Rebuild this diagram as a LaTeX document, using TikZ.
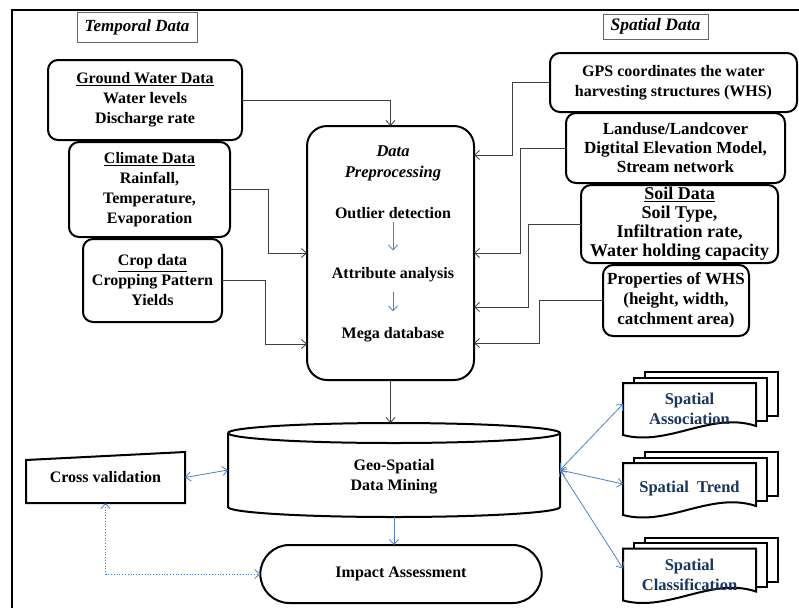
\documentclass[tikz,border=0pt]{standalone}
\usepackage{fontspec}
\setmainfont{Liberation Serif}
\usepackage{tikz}
\usetikzlibrary{positioning,shapes.misc,arrows.meta,backgrounds}

\definecolor{linkblue}{RGB}{79,129,189}
\definecolor{docnavy}{RGB}{23,54,93}

\newcommand{\boxfont}{\bfseries\fontsize{16}{20}\selectfont}
\newcommand{\bigboxfont}{\bfseries\fontsize{18}{19}\selectfont}

\tikzset{
  databox/.style={rectangle, draw, line width=2pt, rounded corners=10pt, align=center, inner sep=2pt, outer sep=0pt, font=\boxfont},
  tagbox/.style={rectangle, draw=black!60, line width=0.6pt, inner sep=2pt, font=\bfseries\itshape\fontsize{17}{20}\selectfont},
  wire/.style={draw=black!75, line width=0.8pt, -{Straight Barb[length=5pt,width=9pt]}},
  flow/.style={draw=linkblue, line width=0.8pt, -{Straight Barb[length=5pt,width=9pt]}},
  flowboth/.style={draw=linkblue, line width=0.8pt, {Straight Barb[length=5pt,width=9pt]}-{Straight Barb[length=5pt,width=9pt]}},
  docline/.style={draw, line width=2pt, fill=white},
  doctext/.style={rectangle, minimum width=133pt, minimum height=52pt, outer sep=0pt, align=center, text=docnavy, font=\bfseries\fontsize{16.5}{20}\selectfont}
}

% stack of three documents behind a node
\newcommand{\docstack}[1]{%
  \foreach \k in {2,1}{%
    \filldraw[docline] ([xshift=11*\k pt, yshift=5.5*\k pt]#1.north west)
      rectangle ([xshift=11*\k pt, yshift=9pt+5*\k pt]#1.south east);
  }%
  \filldraw[docline] (#1.north west) -- (#1.north east) -- ([yshift=9pt]#1.south east)
    .. controls ([xshift=-45pt, yshift=24pt]#1.south east) and ([xshift=45pt, yshift=-12pt]#1.south west) .. (#1.south west) -- cycle;
}

\begin{document}
\begin{tikzpicture}[x=1pt, y=-1pt]
    \useasboundingbox (0,0) rectangle (799,608);
    \draw[line width=2pt] (12,608) -- (12,10) -- (799,10);

    \node[tagbox, minimum width=120pt, minimum height=30pt] (temporal) at (137,27) {Temporal Data};
    \node[tagbox, font=\bfseries\itshape\fontsize{17.5}{20}\selectfont, minimum width=105pt, minimum height=25pt] (spatial) at (655.5,26.5) {Spatial Data};

    % temporal inputs
    \node[databox, minimum width=194pt, minimum height=80pt] (gw) at (145,100)
        {\underline{Ground Water Data}\\Water levels\\Discharge rate};
    \node[databox, minimum width=161pt, minimum height=95pt] (climate) [below=2pt of gw, xshift=4.5pt]
        {\underline{Climate Data}\\Rainfall,\\Temperature,\\Evaporation};
    \node[databox, minimum width=139pt, minimum height=83pt] (crop) [below=2pt of climate, xshift=3pt]
        {\underline{Crop data}\\Cropping Pattern\\Yields};

    % spatial inputs
    \node[databox, minimum width=247pt, minimum height=59pt] (gps) at (673.5,82.5)
        {GPS coordinates the water\\harvesting structures (WHS)};
    \node[databox, font=\bfseries\fontsize{17}{19}\selectfont, minimum width=219pt, minimum height=70pt] (land) [below=1pt of gps, xshift=2pt]
        {Landuse/Landcover\\Digtital Elevation Model,\\Stream network};
    \node[databox, font=\bigboxfont, minimum width=197pt, minimum height=78pt] (soil) [below=2pt of land, xshift=4pt]
        {\underline{Soil Data}\\Soil Type,\\Infiltration rate,\\Water holding capacity};
    \node[databox, font=\bfseries\fontsize{17}{20}\selectfont, minimum width=146pt, minimum height=71pt] (props) [below=2pt of soil, xshift=-3.5pt]
        {Properties of WHS\\(height, width,\\catchment area)};

    % preprocessing
    \node[databox, rounded corners=20pt, minimum width=167pt, minimum height=254pt] (prep) at (390.5,253) {};
    \node[font=\bfseries\itshape\fontsize{16.5}{21}\selectfont, align=center, inner sep=0pt] (ptitle) at (393,163) {Data\\Preprocessing};
    \node[font=\boxfont, inner sep=3pt] (outlier) at (393,213) {Outlier detection};
    \node[font=\boxfont, inner sep=3pt] (attr) at (393,275) {Attribute analysis};
    \node[font=\boxfont, inner sep=3pt] (mega) at (393,335) {Mega database};
    \draw[flow, shorten >=14pt] (outlier) -- (attr);
    \draw[flow, shorten <=7pt, shorten >=13pt] (attr) -- (mega);

    \draw[wire] (gw) -| (prep);
    \draw[wire] (climate.east) -- ++(38,0) |- (prep.west);
    \draw[wire] (crop.east) -- ++(43,0) |- ([yshift=-91pt]prep.west);
    \draw[wire] (gps.west) -- ++(-38,0) |- ([yshift=98pt]prep.east);
    \draw[wire] (land.west) -- ++(-46,0) |- (prep.east);
    \draw[wire] (soil.west) -- ++(-53,0) |- ([yshift=-54pt]prep.east);
    \draw[wire] (props.west) -- ++(-64,0) |- ([yshift=-90pt]prep.east);

    % mining
    \node[rectangle, minimum width=332pt, minimum height=94pt, outer sep=0pt, align=center, font=\boxfont] (mining) at (394,470)
        {\vphantom{X}\\[-6pt]Geo-Spatial\\Data Mining};
    \draw[line width=2pt] ([yshift=-10pt]mining.north west) -- ([yshift=10pt]mining.south west)
        arc[start angle=180, end angle=360, x radius=166pt, y radius=10pt]
        -- ([yshift=-10pt]mining.north east)
        arc[start angle=0, end angle=180, x radius=166pt, y radius=10pt];
    \draw[line width=2pt] ([yshift=-10pt]mining.north west) arc[start angle=180, end angle=360, x radius=166pt, y radius=10pt];

    \node[rectangle, minimum width=159pt, minimum height=51pt, outer sep=0pt, font=\boxfont] (cross) at (105.5,477.5) {Cross validation};
    \draw[line width=2pt] (cross.south west) -- ([yshift=-8pt]cross.north west) -- (cross.north east) -- (cross.south east) -- cycle;

    \node[rounded rectangle, draw, line width=2pt, minimum width=288pt, minimum height=58pt, outer sep=0pt, font=\boxfont] (impact) at (401,574) {Impact Assessment};

    % outputs
    \node[doctext] (assoc) at (689.5,409) {Spatial\\Association};
    \node[doctext] (trend) at (689.5,489) {Spatial~~Trend};
    \node[doctext] (sclass) at (689.5,574.5) {Spatial\\Classification};
    \begin{scope}[on background layer]
        \docstack{assoc}
        \docstack{trend}
        \docstack{sclass}
    \end{scope}

    \draw[wire] (prep.south) -- (prep.south |- mining.north);
    \draw[flow] (mining.south) -- (mining.south |- impact.north);
    \draw[flowboth] (cross.east) -- (mining.west);
    \draw[flowboth, dotted] (cross.south) |- (impact.west);
    \draw[flowboth] (mining.east) -- ([yshift=5pt]assoc.west);
    \draw[flowboth] (mining.east) -- ([yshift=5pt]trend.west);
    \draw[flowboth] (mining.east) -- ([yshift=6pt]sclass.west);
\end{tikzpicture}
\end{document}
